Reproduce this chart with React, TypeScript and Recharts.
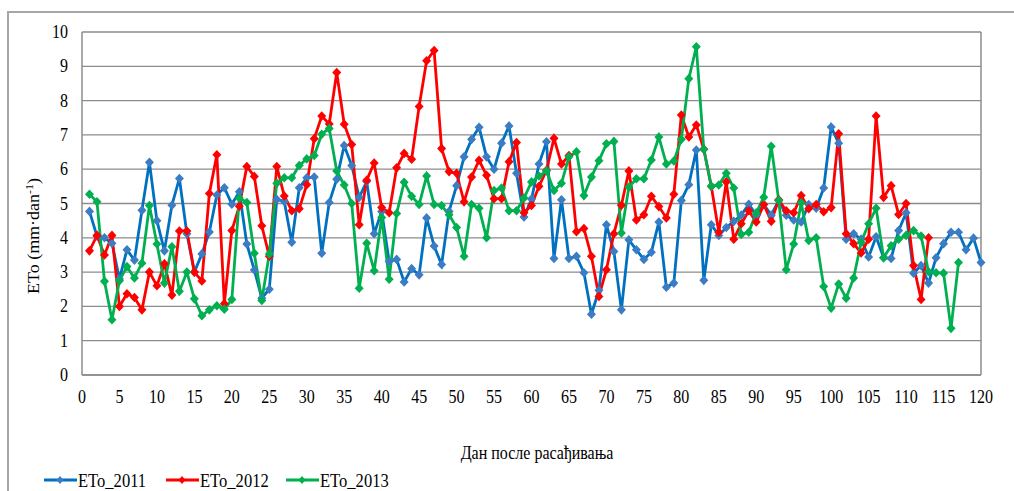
import React from 'react';
import { LineChart, Line, XAxis, YAxis, CartesianGrid, ReferenceLine, Legend } from 'recharts';

const eto2011 = [
  4.77, 4.05, 4.0, 3.84, 2.8, 3.65, 3.35, 4.8, 6.2, 4.5,
  3.62, 4.95, 5.73, 4.12, 3.0, 3.53, 4.17, 5.25, 5.46, 4.98,
  5.34, 3.82, 3.06, 2.24, 2.5, 5.12, 5.06, 3.87, 5.46, 5.75,
  5.77, 3.55, 5.03, 5.71, 6.69, 6.11, 5.18, 5.64, 4.12, 4.77,
  3.31, 3.37, 2.71, 3.1, 2.92, 4.58, 3.76, 3.22, 4.77, 5.52,
  6.36, 6.87, 7.22, 6.36, 6.0, 6.76, 7.26, 5.88, 4.61, 5.13,
  6.15, 6.8, 3.4, 5.11, 3.4, 3.46, 2.98, 1.77, 2.47, 4.38,
  3.6, 1.9, 3.94, 3.65, 3.37, 3.58, 4.46, 2.56, 2.68, 5.09,
  5.55, 6.56, 2.76, 4.38, 4.07, 4.3, 4.48, 4.66, 4.98, 4.66,
  4.97, 4.66, 5.09, 4.66, 4.52, 4.46, 4.97, 4.86, 5.45, 7.23,
  6.76, 3.96, 4.12, 3.96, 3.44, 4.03, 3.42, 3.4, 4.21, 4.73,
  2.97, 3.19, 2.68, 3.42, 3.83, 4.16, 4.16, 3.65, 3.99, 3.28,
];

const eto2012 = [
  3.62, 4.07, 3.5, 4.07, 2.0, 2.37, 2.26, 1.9, 3.0, 2.6,
  3.24, 2.33, 4.2, 4.2, 3.0, 2.74, 5.29, 6.42, 2.08, 4.21,
  4.92, 6.08, 5.79, 4.35, 3.46, 6.08, 5.22, 4.79, 4.85, 5.55,
  6.89, 7.55, 7.32, 8.82, 7.31, 6.72, 4.38, 5.68, 6.18, 4.88,
  4.73, 6.04, 6.46, 6.29, 7.83, 9.16, 9.46, 6.6, 5.93, 5.88,
  5.05, 5.77, 6.26, 5.82, 5.14, 5.14, 6.22, 6.78, 4.73, 4.94,
  5.5, 5.97, 6.9, 6.15, 6.4, 4.18, 4.27, 3.46, 2.29, 3.07,
  4.12, 4.95, 5.95, 4.52, 4.67, 5.21, 4.91, 4.58, 5.27, 7.58,
  6.94, 7.29, 6.58, 5.5, 4.16, 5.63, 3.96, 4.41, 4.79, 4.46,
  4.97, 4.48, 5.11, 4.79, 4.73, 5.23, 4.85, 4.97, 4.76, 4.88,
  7.03, 4.12, 3.83, 3.56, 3.96, 7.55, 5.18, 5.52, 4.68, 5.0,
  3.19, 2.2, 4.0,
];

const eto2013 = [
  5.27, 5.05, 2.73, 1.61, 2.75, 3.16, 2.83, 3.26, 4.94, 3.82,
  2.68, 3.74, 2.44, 3.0, 2.22, 1.73, 1.9, 2.02, 1.92, 2.2,
  5.16, 5.03, 3.55, 2.17, 3.53, 5.59, 5.75, 5.75, 6.11, 6.3,
  6.4, 7.02, 7.19, 5.95, 5.54, 5.0, 2.53, 3.84, 3.04, 4.59,
  2.79, 4.71, 5.62, 5.21, 4.97, 5.8, 4.97, 4.94, 4.67, 4.3,
  3.46, 4.97, 4.86, 4.0, 5.38, 5.45, 4.79, 4.79, 5.16, 5.63,
  5.8, 5.95, 5.38, 5.59, 6.36, 6.51, 5.23, 5.77, 6.25, 6.74,
  6.81, 4.14, 5.48, 5.72, 5.72, 6.27, 6.94, 6.15, 6.24, 6.87,
  8.64, 9.57, 6.58, 5.5, 5.54, 5.88, 5.45, 4.1, 4.16, 4.73,
  5.18, 6.67, 5.09, 3.07, 3.82, 5.02, 3.92, 4.0, 2.58, 1.95,
  2.65, 2.24, 2.83, 3.87, 4.41, 4.86, 3.42, 3.77, 3.96, 4.07,
  4.21, 4.05, 3.01, 2.98, 2.97, 1.36, 3.28,
];

const xTicks = [0, 5, 10, 15, 20, 25, 30, 35, 40, 45, 50, 55, 60, 65, 70, 75, 80, 85, 90, 95, 100, 105, 110, 115, 120];
const yTicks = [0, 1, 2, 3, 4, 5, 6, 7, 8, 9, 10];
const seriesNames = ['ETo_2011', 'ETo_2012', 'ETo_2013'];
const xTitle = 'Дан после расађивања';

const data = eto2011.map((v, i) => ({
  day: i + 1,
  y2011: v,
  y2012: i < eto2012.length ? eto2012[i] : null,
  y2013: i < eto2013.length ? eto2013[i] : null,
}));

const FONT = 'Liberation Serif, Tinos, Times New Roman, DejaVu Serif, serif';
const GRID = '#8c8c8c';
const FS = 18;
const SX = 0.89;
const textStyle: React.CSSProperties = { fontFamily: FONT };

const makeDot = (fill: string) => (props: any) => {
  const { cx, cy, index } = props;
  if (cx == null || cy == null || isNaN(cx) || isNaN(cy)) return <g key={`d${index}`} />;
  const w = 4.5;
  const h = 4.8;
  return (
    <polygon
      key={`d${index}`}
      points={`${cx},${cy - h} ${cx + w},${cy} ${cx},${cy + h} ${cx - w},${cy}`}
      fill={fill}
      stroke="none"
    />
  );
};

const XTick = (props: any) => {
  const { x, y, payload } = props;
  return (
    <text
      transform={`translate(${x}, ${y + 28}) scale(${SX}, 1)`}
      textAnchor="middle"
      style={textStyle}
      fontSize={FS}
      fill="#000"
    >
      {payload.value}
    </text>
  );
};

const YTick = (props: any) => {
  const { x, y, payload } = props;
  return (
    <text
      transform={`translate(${x}, ${y + 6}) scale(${SX}, 1)`}
      textAnchor="end"
      style={textStyle}
      fontSize={FS}
      fill="#000"
    >
      {payload.value}
    </text>
  );
};

const YTitle = () => (
  <text
    transform="translate(39, 236) rotate(-90) scale(1, 0.9)"
    textAnchor="middle"
    style={textStyle}
    fontSize={FS}
    fill="#000"
  >
    ETo (mm·dan
    <tspan dy={-7} fontSize={12}>-1</tspan>
    <tspan dy={7}>)</tspan>
  </text>
);

const XTitle = () => (
  <text
    transform={`translate(537, 459) scale(${SX}, 1)`}
    textAnchor="middle"
    style={textStyle}
    fontSize={FS}
    fill="#000"
  >
    {xTitle}
  </text>
);

const legendColors = ['#0070C0', '#FF0000', '#00B050'];
const legendMarkers = ['#3B7DC4', '#FF0000', '#00B050'];
const legendX = [44, 166, 286];

const renderLegend = () => (
  <svg width={420} height={26} style={{ display: 'block' }}>
    {seriesNames.map((name, i) => {
      const x0 = legendX[i];
      const cy = 13;
      const mx = x0 + 16;
      return (
        <g key={name}>
          <line x1={x0} y1={cy} x2={x0 + 33} y2={cy} stroke={legendColors[i]} strokeWidth={3} />
          <polygon points={`${mx},${cy - 4} ${mx + 3.5},${cy} ${mx},${cy + 4} ${mx - 3.5},${cy}`} fill={legendMarkers[i]} />
          <text
            transform={`translate(${x0 + 34}, ${cy + 6.5}) scale(${SX + 0.03}, 1)`}
            style={textStyle}
            fontSize={FS}
            fill="#000"
          >
            {name}
          </text>
        </g>
      );
    })}
  </svg>
);

export default function App() {
  return (
    <div style={{ position: 'absolute', left: 0, top: 0, width: 1014, height: 491, overflow: 'hidden', background: '#fff', fontFamily: FONT }}>
      <div
        style={{
          position: 'absolute',
          left: 7,
          top: 11,
          width: 1100,
          height: 600,
          border: '2px solid #a6a6a6',
          boxSizing: 'border-box',
        }}
      />
      <div style={{ position: 'absolute', left: 0, top: 0 }}>
        <LineChart width={1014} height={491} data={data} margin={{ top: 32, right: 33, bottom: 60, left: 32 }} style={textStyle}>
          <CartesianGrid horizontal vertical={false} stroke={GRID} strokeWidth={1.3} />
          <XAxis
            type="number"
            dataKey="day"
            domain={[0, 120]}
            ticks={xTicks}
            interval={0}
            height={30}
            tickSize={0}
            tickMargin={0}
            axisLine={{ stroke: GRID, strokeWidth: 1.5 }}
            tick={<XTick />}
          />
          <YAxis
            type="number"
            domain={[0, 10]}
            ticks={yTicks}
            interval={0}
            width={50}
            tickSize={0}
            tickMargin={14}
            axisLine={{ stroke: GRID, strokeWidth: 1.5 }}
            tick={<YTick />}
          />
          <ReferenceLine x={120} stroke={GRID} strokeWidth={1.5} />
          <Line
            type="linear"
            dataKey="y2011"
            name={seriesNames[0]}
            stroke="#0070C0"
            strokeWidth={2.8}
            dot={makeDot('#3B7DC4')}
            activeDot={false}
            isAnimationActive={false}
          />
          <Line
            type="linear"
            dataKey="y2012"
            name={seriesNames[1]}
            stroke="#FF0000"
            strokeWidth={2.8}
            dot={makeDot('#FF0000')}
            activeDot={false}
            isAnimationActive={false}
          />
          <Line
            type="linear"
            dataKey="y2013"
            name={seriesNames[2]}
            stroke="#00B050"
            strokeWidth={2.8}
            dot={makeDot('#00B050')}
            activeDot={false}
            isAnimationActive={false}
          />
          <Legend
            content={renderLegend}
            wrapperStyle={{ position: 'absolute', left: 0, top: 467, width: 420, height: 26 }}
          />
          <YTitle />
          <XTitle />
        </LineChart>
      </div>
    </div>
  );
}
